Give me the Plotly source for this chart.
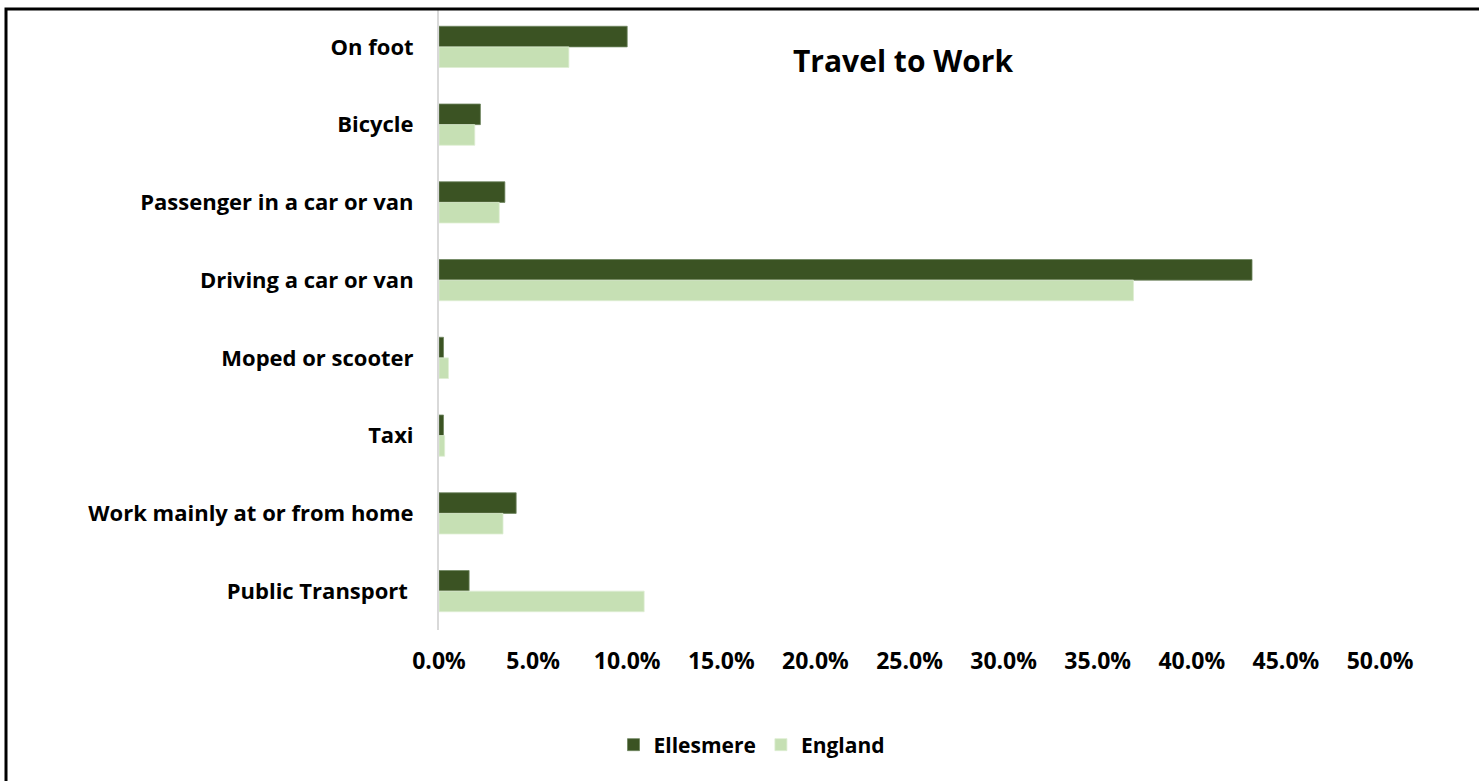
import plotly.graph_objects as go

categories = ["On foot", "Bicycle", "Passenger in a car or van", "Driving a car or van",
              "Moped or scooter", "Taxi", "Work mainly at or from home", "Public Transport "]
ellesmere = [10.0, 2.2, 3.5, 43.2, 0.24, 0.24, 4.1, 1.6]
england = [6.9, 1.9, 3.2, 36.9, 0.5, 0.3, 3.4, 10.9]
tick_vals = [0, 5, 10, 15, 20, 25, 30, 35, 40, 45, 50]
tick_text = [f"{v:.1f}%" for v in tick_vals]

FONT = "Open Sans"
W, H = 1479, 781
L, R, T, B = 439, 99, 8, 151
PW, PH = W - L - R, H - T - B

fig = go.Figure()
fig.add_trace(go.Bar(y=categories, x=ellesmere, orientation="h", name="Ellesmere",
                     marker=dict(color="#3B5323", line=dict(color="#6E8560", width=0.8))))
fig.add_trace(go.Bar(y=categories, x=england, orientation="h", name="England",
                     marker=dict(color="#C6E0B4", line=dict(color="#DDEDD2", width=0.8))))

fig.update_layout(
    width=W, height=H,
    margin=dict(l=L, r=R, t=T, b=B, pad=0),
    paper_bgcolor="white", plot_bgcolor="white",
    barmode="group", bargap=0.47, bargroupgap=0,
    font=dict(family=FONT, size=20, color="#000000"),
    showlegend=True,
    legend=dict(orientation="h", x=(752 - L) / PW, xanchor="center",
                y=(T + PH - 745) / PH, yanchor="middle",
                font=dict(family=FONT, size=21, color="#000000", weight="bold"),
                traceorder="normal", itemwidth=30),
    xaxis=dict(range=[0, 50], tickvals=tick_vals, ticktext=tick_text,
               showgrid=False, zeroline=False, showline=False,
               tickfont=dict(family=FONT, size=23, color="#000000", weight="bold"),
               ticks="", ticklabelstandoff=15, fixedrange=True),
    yaxis=dict(autorange="reversed", showgrid=False, zeroline=False,
               showline=True, linecolor="#D9D9D9", linewidth=2,
               tickfont=dict(family=FONT, size=22, color="#000000", weight="bold"),
               ticks="", ticklabelstandoff=19),
    annotations=[dict(text="<b>Travel to Work</b>", xref="paper", yref="paper",
                      x=(903 - L) / PW, y=(T + PH - 60) / PH,
                      xanchor="center", yanchor="middle",
                      showarrow=False, font=dict(family=FONT, size=30, color="#000000"))],
    shapes=[dict(type="rect", xref="paper", yref="paper",
                 x0=(6 - L) / PW, x1=(W + 20 - L) / PW,
                 y0=(T + PH - (H + 20)) / PH, y1=(T + PH - 9) / PH,
                 line=dict(color="black", width=3), fillcolor="rgba(0,0,0,0)")],
)

fig.write_html("out.html", config={"displayModeBar": False},
               post_script="document.body.style.margin='0px';document.body.style.overflow='hidden';")
